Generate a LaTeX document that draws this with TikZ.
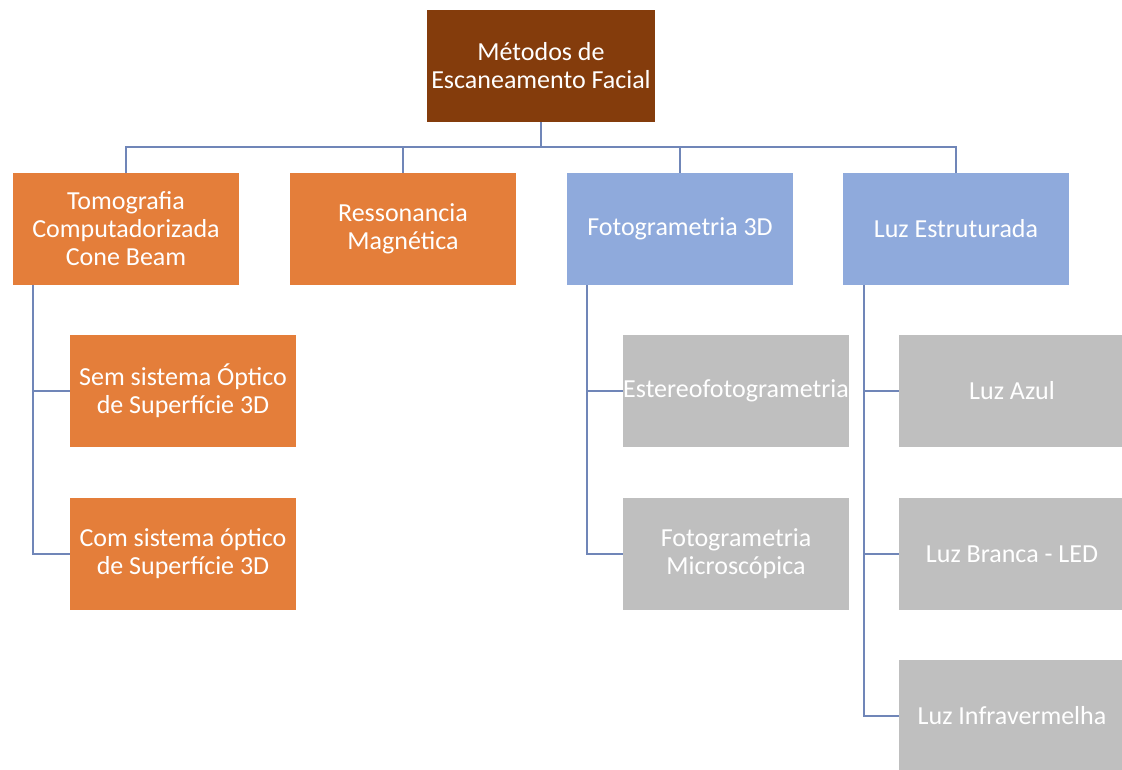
\documentclass[tikz,border=0pt]{standalone}
\usepackage{fontspec}
\setmainfont{Carlito}
\definecolor{rootc}{RGB}{132,60,12}
\definecolor{orangec}{RGB}{228,126,58}
\definecolor{bluec}{RGB}{143,170,220}
\definecolor{greyc}{RGB}{191,191,191}
\definecolor{linec}{RGB}{112,134,184}
\begin{document}
\begin{tikzpicture}[x=1pt,y=-1pt,
  box/.style={minimum width=226pt,minimum height=112pt,inner sep=0pt,text=white,align=center,
    font=\fontsize{26}{28}\selectfont},
  rootbox/.style={box,fill=rootc,minimum width=228pt},
  obox/.style={box,fill=orangec},
  bbox/.style={box,fill=bluec},
  gbox/.style={box,fill=greyc},
  conn/.style={draw=linec,line width=1.5pt}]
\useasboundingbox (0,0) rectangle (1122,769);
\fill[white] (0,0) rectangle (1122,769);
\node[rootbox] (root) at (541,66) {Métodos de\\Escaneamento Facial};
\node[obox] (tomo) at (126,229) {Tomografia\\Computadorizada\\Cone Beam};
\node[obox] (ress) at (403,229) {Ressonancia\\Magnética};
\node[bbox] (foto) at (680,229) {Fotogrametria 3D};
\node[bbox] (luz) at (956,229) {Luz Estruturada};
\node[obox] (sem) at (183,391) {Sem sistema Óptico\\de Superfície 3D};
\node[obox] (com) at (183,554) {Com sistema óptico\\de Superfície 3D};
\node[gbox] (estereo) at (736,391) {Estereofotogrametria};
\node[gbox] (micro) at (736,554) {Fotogrametria\\Microscópica};
\node[gbox] (azul) at (1012,391) {Luz Azul};
\node[gbox] (branca) at (1012,554) {Luz Branca - LED};
\node[gbox] (infra) at (1012,716) {Luz Infravermelha};
\foreach \c in {tomo,ress,foto,luz}
  \draw[conn] (root.south) -- ++(0,25) -| (\c.north);
\draw[conn] ([xshift=20pt]tomo.south west) |- (sem.west);
\draw[conn] ([xshift=20pt]tomo.south west) |- (com.west);
\draw[conn] ([xshift=20pt]foto.south west) |- (estereo.west);
\draw[conn] ([xshift=20pt]foto.south west) |- (micro.west);
\draw[conn] ([xshift=21pt]luz.south west) |- (azul.west);
\draw[conn] ([xshift=21pt]luz.south west) |- (branca.west);
\draw[conn] ([xshift=21pt]luz.south west) |- (infra.west);
\end{tikzpicture}
\end{document}
